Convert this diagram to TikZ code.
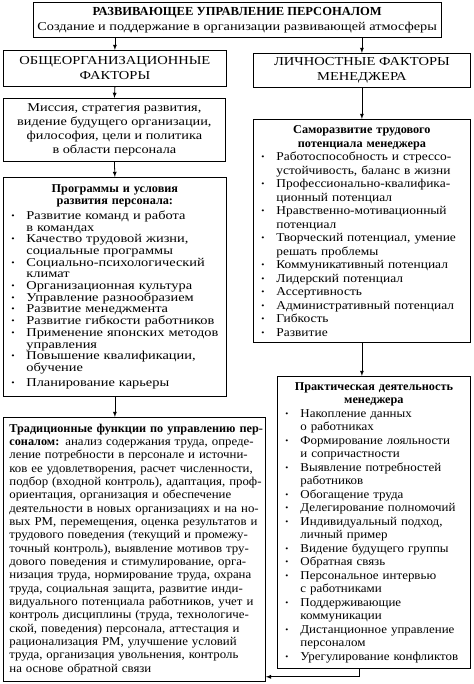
\documentclass[tikz,border=0pt]{standalone}
\usepackage{fontspec}
\setmainfont[FakeStretch=1.12]{Liberation Serif}
\newfontfamily\headfont[FakeStretch=1.02]{Liberation Serif}
\newfontfamily\wideface[FakeStretch=1.19]{Liberation Serif}
\newfontfamily\progface[FakeStretch=1.2]{Liberation Serif}
\newfontfamily\pracface[FakeStretch=1.08]{Liberation Serif}
\newfontfamily\tradface[FakeStretch=1.07]{Liberation Serif}
\usetikzlibrary{arrows, positioning}

\newlength{\itmind}
\setlength{\itmind}{19pt}
\newcommand{\itm}[1]{\par\hangindent=\itmind\hangafter=1\noindent
  \makebox[\itmind][l]{\hspace{4pt}\raisebox{1pt}{\fontsize{8}{8}\selectfont\textbullet}}#1}
\newcommand{\hd}[1]{{\centering\headfont\bfseries #1\par}}
\newcommand{\jl}[1]{\noindent\makebox[\hsize][s]{#1}\par}

\begin{document}
\begin{tikzpicture}[
    x=1pt, y=-1pt,
    box/.style={draw, line width=0.8pt, inner xsep=4pt, inner ysep=3pt,
        anchor=north west, font=\fontsize{12}{13.5}\selectfont},
    listbox/.style={box, align=left},
    capsbox/.style={box, align=center, font=\wideface\fontsize{12.2}{15}\selectfont},
    arrow/.style={line width=0.8pt, -latex}
]
    \useasboundingbox (0,0) rectangle (473,684);

    % Row 1: title
    \node[box, minimum width=407pt, minimum height=35pt, align=center,
        font=\wideface\fontsize{12}{15}\selectfont] (top) at (33,2)
        {{\fontsize{12.3}{15}\headfont\bfseries РАЗВИВАЮЩЕЕ УПРАВЛЕНИЕ ПЕРСОНАЛОМ}\\
         Создание и поддержание в организации развивающей атмосферы};

    % Row 2: factors
    \node[capsbox, minimum width=223pt, minimum height=36pt] (orgf) at (3,50)
        {ОБЩЕОРГАНИЗАЦИОННЫЕ\\ФАКТОРЫ};
    \node[capsbox, minimum width=217pt, minimum height=34pt] (persf) at (253,53)
        {ЛИЧНОСТНЫЕ ФАКТОРЫ\\МЕНЕДЖЕРА};

    % Left column
    \node[box, minimum width=222pt, minimum height=63pt, align=center,
        font=\wideface\fontsize{12}{14}\selectfont] (mission) at (3,98)
        {Миссия, стратегия развития,\\видение будущего организации,\\философия, цели и политика\\в области персонала};
    \node[listbox, text width=215pt, minimum height=219pt,
        font=\progface\fontsize{12}{11.7}\selectfont] (progs) at (3,177)
        {\hd{Программы и условия\\развития персонала:}
         \vspace{3pt}
         \itm{Развитие команд и работа\newline в командах}
         \itm{Качество трудовой жизни,\newline социальные программы}
         \itm{Социально-психологический\newline климат}
         \itm{Организационная культура}
         \itm{Управление разнообразием}
         \itm{Развитие менеджмента}
         \itm{Развитие гибкости работников}
         \itm{Применение японских методов\newline управления}
         \itm{Повышение квалификации,\newline обучение}
         \par\vspace{3pt}
         \itm{Планирование карьеры}};
    \node[box, text width=250pt, inner xsep=6pt, minimum height=264pt, align=left,
        font=\tradface\fontsize{12}{13.33}\selectfont] (trad) at (3,417)
        {\jl{{\headfont\bfseries Традиционные функции по управлению пер-}}
         \jl{{\headfont\bfseries соналом:} анализ содержания труда, опреде-}
         \jl{ление потребности в персонале и источни-}
         \jl{ков ее удовлетворения, расчет численности,}
         \jl{подбор (входной контроль), адаптация, проф-}
         \jl{ориентация, организация и обеспечение}
         \jl{деятельности в новых организациях и на но-}
         \jl{вых РМ, перемещения, оценка результатов и}
         \jl{трудового поведения (текущий и промежу-}
         \jl{точный контроль), выявление мотивов тру-}
         \jl{дового поведения и стимулирование, орга-}
         \jl{низация труда, нормирование труда, охрана}
         \jl{труда, социальная защита, развитие инди-}
         \jl{видуального потенциала работников, учет и}
         \jl{контроль дисциплины (труда, технологиче-}
         \jl{ской, поведения) персонала, аттестация и}
         \jl{рационализация РМ, улучшение условий}
         \jl{труда, организация увольнения, контроль}
         \noindent на основе обратной связи};

    % Right column
    \node[listbox, text width=209pt, minimum height=223pt] (self) at (253,119)
        {\hd{Саморазвитие трудового\\потенциала менеджера}
         \itm{Работоспособность и стрессо-\newline устойчивость, баланс в жизни}
         \itm{Профессионально-квалифика-\newline ционный потенциал}
         \itm{Нравственно-мотивационный\newline потенциал}
         \itm{Творческий потенциал, умение\newline решать проблемы}
         \itm{Коммуникативный потенциал}
         \itm{Лидерский потенциал}
         \itm{Ассертивность}
         \itm{Административный потенциал}
         \itm{Гибкость}
         \itm{Развитие}};
    \node[listbox, text width=185pt, minimum height=292pt,
        font=\pracface\fontsize{12}{13.5}\selectfont] (practical) at (277,376)
        {\hd{Практическая деятельность\\менеджера}
         \itm{Накопление данных\newline о работниках}
         \itm{Формирование лояльности\newline и сопричастности}
         \itm{Выявление потребностей\newline работников}
         \itm{Обогащение труда}
         \itm{Делегирование полномочий}
         \itm{Индивидуальный подход,\newline личный пример}
         \itm{Видение будущего группы}
         \itm{Обратная связь}
         \itm{Персональное интервью\newline с работниками}
         \itm{Поддерживающие\newline коммуникации}
         \itm{Дистанционное управление\newline персоналом}
         \itm{Урегулирование конфликтов}};

    % Arrows
    \draw[arrow] (top.south -| orgf.north) -- (orgf.north);
    \draw[arrow] (top.south -| persf.north) -- (persf.north);
    \draw[arrow] (orgf.south) -- (mission.north);
    \draw[arrow] (mission.south) -- (progs.north);
    \draw[arrow] (progs.south) -- (progs.south |- trad.north);
    \draw[arrow] (persf.south) -- (persf.south |- self.north);
    \draw[arrow] (self.south) -- (self.south |- practical.north);
    \draw[arrow] ([xshift=-15pt]practical.south) |- ([yshift=5pt]trad.south east);
\end{tikzpicture}
\end{document}
